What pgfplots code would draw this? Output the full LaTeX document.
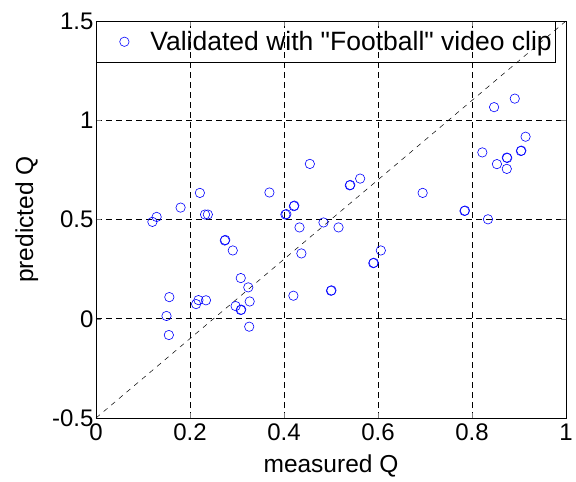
\documentclass[border=0pt]{standalone}
\usepackage{fontspec}
\setmainfont{Liberation Sans}[Ligatures=TeXOff]
\usepackage{pgfplots}
\pgfplotsset{compat=1.18}
\begin{document}
\begin{tikzpicture}
\begin{axis}[
  scale only axis,
  width=470pt, height=397pt,
  xmin=0, xmax=1, ymin=-0.5, ymax=1.5,
  xtick={0,0.2,0.4,0.6,0.8,1},
  ytick={-0.5,0,0.5,1,1.5},
  /pgf/number format/assume math mode=true,
  tick label style={font=\fontsize{24}{28}\selectfont},
  label style={font=\fontsize{24.5}{28}\selectfont},
  xlabel={measured Q}, ylabel={predicted Q},
  xlabel style={at={(axis description cs:0.5,-0.121)}, anchor=center},
  ylabel style={at={(axis description cs:-0.147,0.5)}, anchor=center},
  xticklabel style={yshift=-2pt},
  yticklabel style={xshift=1pt},
  tick align=inside, major tick length=5pt,
  xtick pos=both, ytick pos=both,
  grid=major,
  major grid style={black, dash pattern=on 6pt off 4pt, line width=0.6pt},
  axis line style={line width=0.8pt},
  legend style={at={(rel axis cs:0,1)}, anchor=north west, fill=none,
    draw=black, line width=0.8pt, font=\fontsize{26.5}{30}\selectfont,
    inner xsep=2pt, inner ysep=8pt, legend cell align=left,
    nodes={inner xsep=2pt}},
  every axis plot post/.append style={legend image code/.code={\path[draw=none,fill=none] (0pt,-1pt) rectangle (50pt,1pt); \draw[##1, only marks] plot coordinates {(26pt,0pt)};}},
]
\coordinate (o) at (rel axis cs:0,0);
\addplot[only marks, mark=o, mark size=4.7pt, color={rgb,255:red,0;green,0;blue,255}, line width=0.6pt] coordinates {
(0.120,0.488) (0.129,0.513) (0.180,0.560) (0.221,0.634) (0.232,0.525) (0.238,0.525)
(0.274,0.394) (0.275,0.397) (0.291,0.344) (0.308,0.205) (0.324,0.158) (0.327,0.087)
(0.297,0.064) (0.308,0.044) (0.309,0.046) (0.326,-0.040) (0.156,0.109) (0.150,0.014)
(0.155,-0.082) (0.213,0.074) (0.218,0.094) (0.234,0.093) (0.369,0.636) (0.403,0.525)
(0.405,0.527) (0.421,0.567) (0.422,0.570) (0.433,0.460) (0.437,0.329) (0.420,0.116)
(0.455,0.780) (0.484,0.485) (0.516,0.460) (0.500,0.141) (0.501,0.143) (0.540,0.672)
(0.541,0.674) (0.562,0.706) (0.590,0.280) (0.591,0.282) (0.606,0.344) (0.695,0.634)
(0.784,0.543) (0.785,0.545) (0.834,0.501) (0.822,0.838) (0.847,1.066) (0.891,1.109)
(0.914,0.917) (0.904,0.845) (0.905,0.847) (0.874,0.812) (0.875,0.810) (0.853,0.779)
(0.874,0.755)
};
\addlegendentry{Validated with "Football" video clip}
\addplot[black, dash pattern=on 5pt off 5pt, line width=0.5pt, forget plot] coordinates {(0,-0.5) (1,1.5)};
\end{axis}
\pgfresetboundingbox
\path[use as bounding box] (o) ++(-96pt,-64pt) rectangle ++(576pt,482pt);
\end{tikzpicture}
\end{document}
